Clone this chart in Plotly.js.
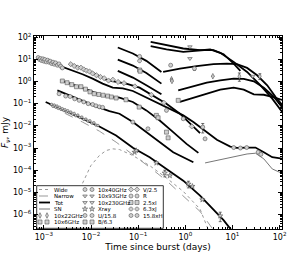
<!DOCTYPE html>
<html><head><meta charset="utf-8">
<script src="https://cdn.plot.ly/plotly-3.0.1.min.js"></script>
<style>html,body{margin:0;padding:0;background:#fff}</style>
</head><body><div id="c" style="width:295px;height:256px"></div>
<script>
// ---------- model curves (time in days, flux in mJy) ----------
const xrayTotT = [1.09e-3,2.9e-3,6.59e-3,0.015,0.034,0.0771,0.175,0.398,0.903,2.05,3.95,6.46,9.75];
const xrayTotF = [0.119,0.0464,0.0209,0.0094,0.00368,0.00102,3.85e-4,1.14e-4,3.38e-5,7.1e-6,1.77e-6,5.6e-7,1.85e-7];
const narrowT = [1.28e-3,2.9e-3,6.59e-3,0.015,0.034,0.0771,0.175,0.398,0.903,2.05,3.95];
const narrowF = [0.0929,0.0352,0.0148,5.78e-3,1.84e-3,5.08e-4,1.36e-4,3.38e-5,7.1e-6,1.39e-6,2.0e-7];
const wideT = [6.59e-3,9.9e-3,0.015,0.0208,0.0288,0.0401,0.0771,0.175,0.398,0.903,2.05,3.09];
const wideF = [2.56e-5,1.61e-4,4.58e-4,7.7e-4,9.2e-4,8.55e-4,4.58e-4,1.61e-4,4.47e-5,1.11e-5,1.77e-6,2.0e-7];
const rTotT = [7.2e-4,1.28e-3,2.9e-3,6.59e-3,0.0108,0.0176,0.0288,0.0472,0.0771,0.126,0.243,0.469,0.903,1.48,2.62,4.66,8.97,12.4,20.4,30.7,46.2,69.7,120];
const rTotF = [12.0,7.66,4.09,2.12,1.35,0.80,0.527,0.492,0.373,0.221,0.111,0.0552,0.0296,0.0148,5.78e-3,2.34e-3,1.17e-3,1.02e-3,1.05e-3,1.05e-3,6.47e-4,3.85e-4,3.24e-4];
const snT = [2.62,5.49,10.6,20.4,30.7,46.2,69.7,120];
const snF = [2.13e-4,2.92e-4,4.12e-4,5.4e-4,5.83e-4,3.24e-4,1.14e-4,6.8e-5];
const vTotT = [3.42e-3,6.59e-3,0.0127,0.0208,0.034,0.0556,0.107,0.206,0.398,0.767,1.48,2.05];
const vTotF = [6.43,3.95,2.12,1.22,0.953,0.80,0.527,0.238,0.0995,0.0352,9.4e-3,4.69e-3];
const bTotT = [2.27e-3,4.75e-3,9.16e-3,0.015,0.0245,0.0401,0.0771,0.149,0.286,0.552,1.06,1.89];
const bTotF = [1.13,0.673,0.40,0.255,0.20,0.186,0.119,0.0498,0.0175,5.2e-3,1.54e-3,6.04e-4];
const uTotT = [1.93e-3,3.42e-3,6.59e-3,0.0127,0.0245,0.0401,0.0771,0.149,0.286,0.552,1.48];
const uTotF = [0.40,0.238,0.141,0.0755,0.0464,0.0352,0.0148,5.2e-3,1.84e-3,6.47e-4,2.29e-4];
const hTotT = [0.0369,0.0771,0.149,0.311];
const hTotF = [34.0,18.2,8.49,2.70];
const jTotT = [0.0369,0.0771,0.149,0.311];
const jTotF = [9.75,5.22,2.43,0.80];
const iTotT = [0.0369,0.0771,0.149,0.311];
const iTotF = [3.00,1.50,0.673,0.264];
const g230TotT = [0.184,0.398,0.903,2.05,3.95,6.46,10.6,14.7];
const g230TotF = [61.5,43.5,30.7,25.8,25.8,17.0,6.43,3.00];
const g93TotT = [0.184,0.398,0.903,2.05,3.35,5.49,10.6,20.4,39.3,69.7,120];
const g93TotF = [39.2,27.7,21.7,25.8,27.7,19.5,7.66,2.70,0.673,0.168,0.0352];
const g40TotT = [0.338,0.767,1.74,3.95,7.62,12.4,20.4,33.3,54.5,82.2,120];
const g40TotF = [2.70,3.82,4.88,6.0,6.43,6.0,4.09,1.91,0.673,0.20,0.0755];
const g22TotT = [0.706,1.48,2.85,5.49,10.6,17.3,28.3,46.2,75.6,120];
const g22TotF = [0.40,0.607,0.889,1.13,1.35,1.30,1.02,0.527,0.20,0.0591];
const g6TotT = [0.767,1.48,2.85,5.49,10.6,17.3,28.3,46.2,69.7,120];
const g6TotF = [0.119,0.186,0.283,0.428,0.527,0.428,0.264,0.252,0.20,0.141];

// ---------- observations ----------
const xrayT = [1.46e-3,1.56e-3,1.66e-3,1.77e-3,1.90e-3,2.02e-3,2.16e-3,2.31e-3,2.46e-3,2.63e-3,2.81e-3,3.0e-3,3.21e-3,3.42e-3,3.72e-3,4.03e-3,4.38e-3,4.75e-3,5.24e-3,5.78e-3,6.38e-3,7.04e-3,7.77e-3,8.57e-3,9.46e-3,0.0104,0.0115,0.0127,0.014];
const xrayF = [0.0929,0.0755,0.0867,0.0704,0.0782,0.0612,0.0681,0.0552,0.0591,0.0498,0.0533,0.0433,0.0481,0.039,0.0418,0.034,0.0364,0.0286,0.0306,0.024,0.0248,0.0195,0.0202,0.0164,0.0169,0.0133,0.0138,0.0108,0.0104];
const xrayLateT = [0.0838,0.0909,0.243,0.366,0.469,1.16,1.41,2.30,5.49];
const xrayLateF = [6.47e-4,7.7e-4,2.13e-4,7.5e-5,5.7e-5,2.39e-5,1.88e-5,4.68e-6,8.8e-7];
const xrayLateE = [0,0,0,2.5e-5,0,8e-6,0,0,4e-7];
const rT = [7.57e-4,8.08e-4,8.49e-4,8.91e-4,9.52e-4,1.0e-3,1.05e-3,1.12e-3,1.2e-3,1.28e-3,1.36e-3,1.46e-3,1.56e-3,1.66e-3,1.77e-3,1.93e-3,2.09e-3,2.27e-3,2.46e-3,0.398,0.903,2.34,2.62,10.6,14.7,20.0,35.0,40.0];
const rF = [12.0,9.75,10.8,8.79,10.5,8.2,9.75,7.66,9.1,7.4,8.2,6.43,7.4,6.0,6.9,5.41,6.21,4.88,4.09,0.0498,0.0209,8.77e-3,2.6e-3,1.05e-3,1.0e-3,1.05e-3,6.5e-4,5.2e-4];
const rE = [0,0,0,0,0,0,0,0,0,0,0,0,0,0,0,0,0,0,0,0,0,4e-3,0,0,0,0,0,0];
const vT = [3.72e-3,4.4e-3,5.2e-3,6.1e-3,7.0e-3,8.0e-3,9.3e-3,0.0108,0.0130,0.0158,0.019,0.0235,0.029,0.0375,0.05,0.085,0.19,0.35,1.37];
const vF = [6.0,5.0,4.2,4.2,3.5,3.1,2.8,2.3,1.9,1.6,1.4,1.1,1.2,0.95,0.84,0.6,0.25,0.11,9.4e-3];
const bT = [2.46e-3,3.1e-3,3.9e-3,4.9e-3,6.1e-3,7.6e-3,9.5e-3,0.0117,0.0146,0.018,0.0225,0.027,0.034,0.055,0.105,0.243,0.264,0.398,0.431];
const bF = [1.05,0.88,0.72,0.58,0.58,0.45,0.34,0.28,0.26,0.24,0.22,0.2,0.18,0.15,0.07,0.0296,0.0232,5.2e-3,2.88e-3];
const uT = [2.1e-3,2.9e-3,3.6e-3,4.5e-3,5.6e-3,7.0e-3,8.7e-3,0.0108,0.0127,0.0150,0.0176,0.0771,0.161];
const uF = [0.28,0.22,0.21,0.165,0.141,0.12,0.10,0.092,0.08,0.072,0.068,0.0148,7.36e-3];
const hT = [0.107]; const hF = [13.5];
const jT = [0.107]; const jF = [8.5];
const iT = [0.107,0.11]; const iF = [3.3,2.9];
const g93T = [1.25,26.9]; const g93F = [36.6,1.72];
const g230T = [1.25]; const g230F = [10.8];
const g40T = [0.488,1.56]; const g40F = [5.41,3.82];
const g40E = [0,0.6];
const g22T = [0.509,0.52,3.83,14.0,38.0]; const g22F = [1.26,1.05,1.72,1.72,1.72];
const g22E = [0,0,0,0.7,0.5];
const g6T = [0.706]; const g6F = [0.141];

// ---------- legend labels ----------
const legCol1 = ['Wide','Narrow','Tot','SN','10x22GHz','10x6GHz'];
const legCol2 = ['10x40GHz','10x93GHz','10x230GHz','Xray','U/15.8','B/6.3'];
const legCol3 = ['V/2.5','R','2.5xI','6.3xJ','15.8xH'];

function line(t,f,extra){ return Object.assign({x:t,y:f,type:'scatter',mode:'lines',line:{color:'#000',width:1.8},showlegend:false,hoverinfo:'skip'}, extra||{}); }
const mk = (sym, size) => ({color:'#cfcfcf', size:size||4, symbol:sym, line:{color:'#555', width:0.6}});
function pts(t,f,sym,size,err){
  const tr = {x:t,y:f,type:'scatter',mode:'markers',marker:mk(sym,size),showlegend:false,hoverinfo:'skip'};
  if(err) tr.error_y = {type:'data', array:err, visible:true, color:'#333', thickness:0.7, width:1.5};
  return tr;
}

const traces = [
  line(wideT,wideF,{line:{color:'#999',width:1,dash:'dot'}}),
  line(narrowT,narrowF,{line:{color:'#999',width:1,dash:'dash'}}),
  line(snT,snF,{line:{color:'#777',width:1}}),
  line(xrayTotT,xrayTotF), line(rTotT,rTotF), line(vTotT,vTotF), line(bTotT,bTotF), line(uTotT,uTotF),
  line(hTotT,hTotF), line(jTotT,jTotF), line(iTotT,iTotF),
  line(g230TotT,g230TotF), line(g93TotT,g93TotF), line(g40TotT,g40TotF), line(g22TotT,g22TotF), line(g6TotT,g6TotF),
  pts(xrayT,xrayF,'circle',2.5), pts(xrayLateT,xrayLateF,'star',4,xrayLateE),
  pts(rT,rF,'circle',4,rE), pts(vT,vF,'diamond'), pts(bT,bF,'square'), pts(uT,uF,'circle'),
  pts(hT,hF,'circle'), pts(jT,jF,'octagon'), pts(iT,iF,'square'),
  pts(g93T,g93F,'triangle-down'), pts(g230T,g230F,'triangle-down'), pts(g40T,g40F,'circle',4,g40E),
  pts(g22T,g22F,'diamond-tall',4,g22E), pts(g6T,g6F,'square')
];

// ---------- legend drawn in an overlay (paper-like) axis ----------
const px = v => (v-34)/248, py = v => (229-v)/193;
const rows = [189.5,196,202.5,209,215.5,222];
const annotations = [];
function legText(txt, x, y){ annotations.push({text:txt, x:px(x), y:py(y), xref:'paper', yref:'paper', xanchor:'left', yanchor:'middle', showarrow:false, font:{size:5.5, family:'DejaVu Sans', color:'#000'}}); }
legCol1.forEach((s,i)=>legText(s,52,rows[i]));
legCol2.forEach((s,i)=>legText(s,96,rows[i]));
legCol3.forEach((s,i)=>legText(s,141,rows[i]));
const legLines = [
  {dash:'dot', color:'#999', width:1},
  {dash:'dash', color:'#999', width:1},
  {dash:'solid', color:'#000', width:1.8},
  {dash:'solid', color:'#777', width:1}
];
legLines.forEach((l,i)=>traces.push({x:[px(39),px(50)],y:[py(rows[i]),py(rows[i])],xaxis:'x2',yaxis:'y2',type:'scatter',mode:'lines',line:l,showlegend:false,hoverinfo:'skip'}));
const legSyms = [
  [40,rows[4],'diamond-tall'],[47,rows[4],'diamond-tall'],[40,rows[5],'square'],[47,rows[5],'square'],
  [85,rows[0],'circle'],[92,rows[0],'circle'],[85,rows[1],'triangle-down'],[92,rows[1],'triangle-down'],
  [85,rows[2],'triangle-down'],[92,rows[2],'triangle-down'],[85,rows[3],'star'],[92,rows[3],'star'],
  [85,rows[4],'circle'],[92,rows[4],'circle'],[85,rows[5],'square'],[92,rows[5],'square'],
  [131,rows[0],'diamond'],[137,rows[0],'diamond'],[131,rows[1],'circle'],[137,rows[1],'circle'],
  [131,rows[2],'square'],[137,rows[2],'square'],[131,rows[3],'octagon'],[137,rows[3],'octagon'],
  [131,rows[4],'circle'],[137,rows[4],'circle']
];
legSyms.forEach(s=>traces.push({x:[px(s[0])],y:[py(s[1])],xaxis:'x2',yaxis:'y2',type:'scatter',mode:'markers',marker:mk(s[2],4),showlegend:false,hoverinfo:'skip'}));

const sup = n => n<0 ? '10<sup>\u2212'+(-n)+'</sup>' : '10<sup>'+n+'</sup>';
const xExp = [-3,-2,-1,0,1,2], yExp = [-6,-5,-4,-3,-2,-1,0,1,2];
const minorVals = []; for(let n=-8;n<=2;n++){ for(let k=2;k<=9;k++) minorVals.push(k*Math.pow(10,n)); }
const axBase = {type:'log', showline:true, linecolor:'#000', linewidth:1, mirror:'allticks', ticks:'inside', ticklen:4, tickcolor:'#000',
  showgrid:false, zeroline:false, automargin:false, tickfont:{size:8, family:'DejaVu Sans', color:'#000'}, tickmode:'array',
  minor:{tickmode:'array', tickvals:minorVals, ticks:'inside', ticklen:2, tickcolor:'#000', showgrid:false}};

const layout = {
  width:295, height:256, margin:{l:34, r:13, t:36, b:27}, paper_bgcolor:'#fff', plot_bgcolor:'#fff',
  font:{family:'DejaVu Sans', color:'#000'}, showlegend:false,
  xaxis: Object.assign({}, axBase, {range:[-3.21,2.05], tickvals:xExp.map(e=>Math.pow(10,e)), ticktext:xExp.map(sup),
     title:{text:'Time since burst (days)', font:{size:9, family:'DejaVu Sans'}, standoff:2}}),
  yaxis: Object.assign({}, axBase, {range:[-6.65,2.05], tickvals:yExp.map(e=>Math.pow(10,e)), ticktext:yExp.map(sup),
     title:{text:'<i>F</i><sub><i>\u03bd</i></sub>, mJy', font:{size:9, family:'DejaVu Sans'}, standoff:2}}),
  xaxis2:{domain:[0,1], range:[0,1], overlaying:'x', visible:false, fixedrange:true},
  yaxis2:{domain:[0,1], range:[0,1], overlaying:'y', visible:false, fixedrange:true},
  shapes:[{type:'rect', xref:'paper', yref:'paper', x0:px(36.7), x1:px(163.3), y0:py(228.3), y1:py(185.7), line:{color:'#000', width:0.8}, fillcolor:'rgba(255,255,255,1)', layer:'below'}],
  annotations: annotations
};
Plotly.newPlot('c', traces, layout, {displayModeBar:false});
</script></body></html>
